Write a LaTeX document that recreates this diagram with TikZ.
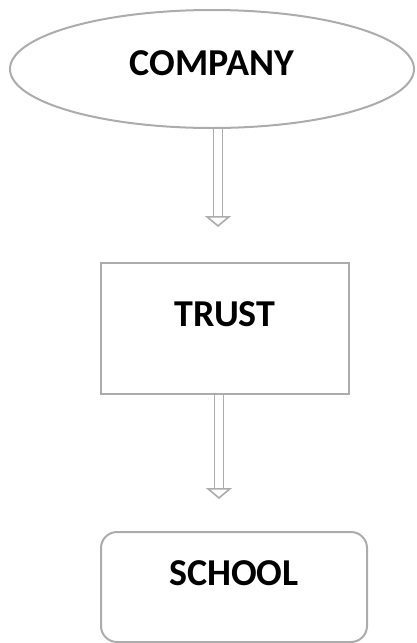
\documentclass[tikz,border=0pt]{standalone}
\usepackage{fontspec}
\setmainfont{Carlito}
\usetikzlibrary{arrows.meta,positioning,calc,shapes.geometric}

\begin{document}
\begin{tikzpicture}[
    x=1pt, y=-1pt,
    every node/.style={font=\fontsize{38}{40}\selectfont\bfseries, text height=24pt},
    outline/.style={draw=gray!65, line width=2pt},
    oval/.style={outline, ellipse, minimum width=404pt, minimum height=118pt, inner sep=0pt},
    box/.style={outline, rectangle, inner sep=0pt},
    dbl/.style={draw=gray!65, line width=1.6pt, double=white, double distance=7.5pt, -{Triangle[open, length=11pt, width=26pt]}}
]
\useasboundingbox (0,0) rectangle (416,643);
\node[oval, text depth=11pt] (company) at (212,69) {COMPANY};
\node[box, minimum width=248pt, minimum height=131pt, text depth=29pt] (trust) at (225,328.5) {TRUST};
\node[box, rounded corners=16pt, minimum width=266pt, minimum height=110pt, text depth=27pt] (school) at (234,587) {SCHOOL};
\draw[dbl, shorten >=35pt] ([xshift=6pt]company.south) -- ([xshift=6pt]company.south |- trust.north);
\draw[dbl, shorten >=32pt] ([xshift=-6pt]trust.south) -- ([xshift=-6pt]trust.south |- school.north);
\end{tikzpicture}
\end{document}
